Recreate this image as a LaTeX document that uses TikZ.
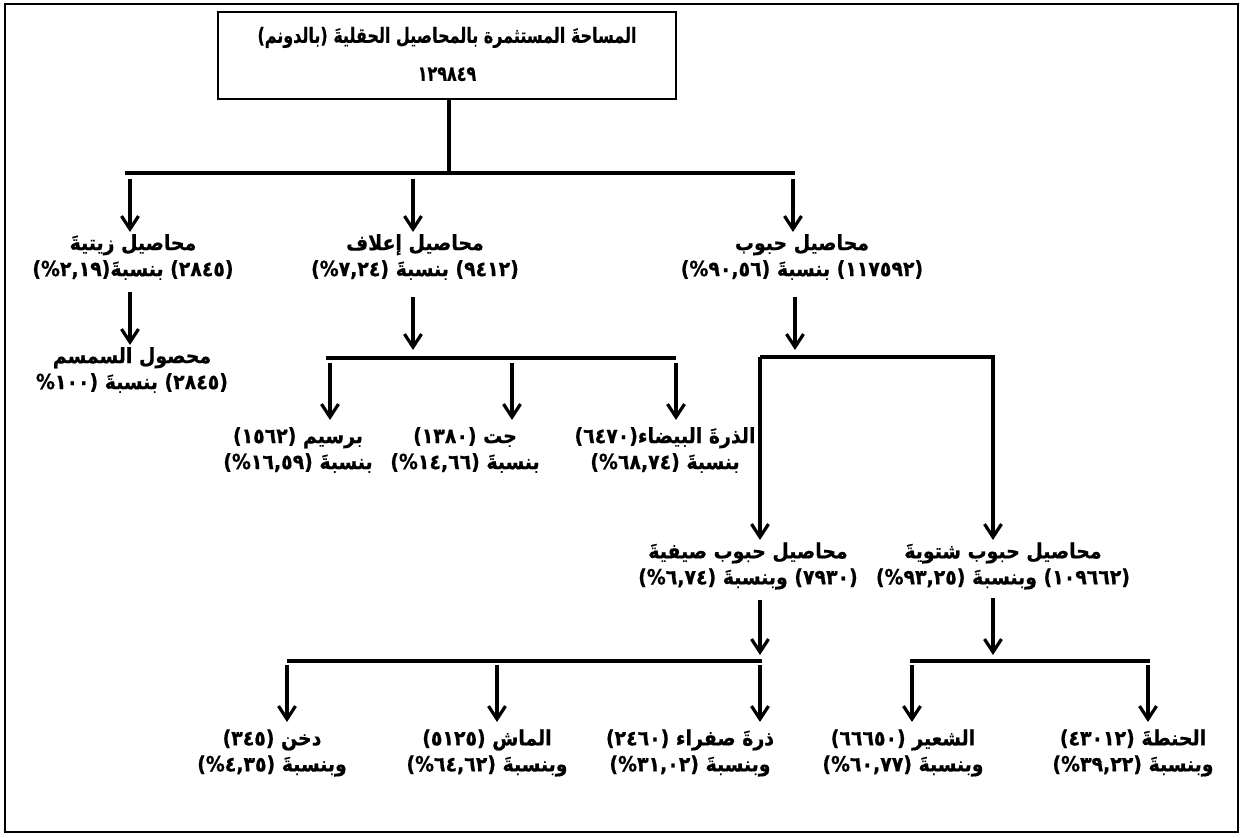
\documentclass[tikz,border=0pt]{standalone}
\usepackage{fontspec}
\usetikzlibrary{arrows.meta}
\newfontfamily\arabicfont[Script=Arabic, FakeStretch=0.9, BoldFeatures={FakeBold=0.6}]{DejaVu Sans}
\newfontfamily\arabicnarrow[Script=Arabic, FakeStretch=0.76, BoldFeatures={FakeBold=0.6}]{DejaVu Sans}
\TeXXeTstate=1
\newcommand\AR[1]{\beginR #1\endR}
\begin{document}
\begin{tikzpicture}[x=0.5pt,y=-0.5pt,
  ln/.style={line width=1.6pt},
  arr/.style={line width=1.6pt,-{Straight Barb[length=6.5pt,width=8.5pt]}},
  lbl/.style={font=\arabicfont\bfseries\fontsize{10.5}{13}\selectfont, align=center, inner sep=0pt},
  frame/.style={draw, line width=1.3pt}]
\useasboundingbox (0,0) rectangle (1244,838);
\draw[frame] (5,4) rectangle (1238,832);
% top box
\node[frame, minimum width=229pt, minimum height=43.5pt, inner sep=0pt] (top) at (447,55.5) {};
\node[lbl, font=\arabicnarrow\bfseries\fontsize{10.5}{19}\selectfont] (toptxt) at (447,54)
  {\AR{المساحةَ المستثمرة بالمحاصيل الحقليةَ (بالدونم)}\\ \AR{١٢٩٨٤٩}};
% level 1
\coordinate (j0) at (449,173);
\coordinate (bL) at (125,173);
\coordinate (bR) at (795,173);
\draw[ln] (top.south -| j0) -- (j0);
\draw[ln] (bL) -- (bR);
\coordinate (a1s) at (130,179); \coordinate (a1e) at (130,232);
\coordinate (a2s) at (413,179); \coordinate (a2e) at (413,232);
\coordinate (a3s) at (793,179); \coordinate (a3e) at (793,232);
\draw[arr] (a1s) -- (a1e);
\draw[arr] (a2s) -- (a2e);
\draw[arr] (a3s) -- (a3e);
\node[lbl] (zeit) at (133,257) {\AR{محاصيل زيتيةَ}\\ \AR{(٢٨٤٥) بنسبةَ(٢,١٩\%)}};
\node[lbl] (alaf) at (415,257) {\AR{محاصيل إعلاف}\\ \AR{(٩٤١٢) بنسبةَ (٧,٢٤\%)}};
\node[lbl] (hubub) at (802,257) {\AR{محاصيل حبوب}\\ \AR{(١١٧٥٩٢) بنسبةَ (٩٠,٥٦\%)}};
% oil
\coordinate (o1) at (130,292); \coordinate (o2) at (130,345);
\draw[arr] (o1) -- (o2);
\node[lbl] (semsem) at (132,370) {\AR{محصول السمسم}\\ \AR{(٢٨٤٥) بنسبةَ (١٠٠\%}};
% fodder
\coordinate (f1) at (413,297); \coordinate (f2) at (413,350);
\draw[arr] (f1) -- (f2);
\coordinate (fL) at (326,358); \coordinate (fR) at (676,358);
\draw[ln] (fL) -- (fR);
\coordinate (f3s) at (330,363); \coordinate (f3e) at (330,420);
\coordinate (f4s) at (512,363); \coordinate (f4e) at (512,420);
\coordinate (f5s) at (676,363); \coordinate (f5e) at (676,420);
\draw[arr] (f3s) -- (f3e);
\draw[arr] (f4s) -- (f4e);
\draw[arr] (f5s) -- (f5e);
\node[lbl] (barsim) at (298,450) {\AR{برسيم (١٥٦٢)}\\ \AR{بنسبةَ (١٦,٥٩\%)}};
\node[lbl] (jat) at (465,450) {\AR{جت (١٣٨٠)}\\ \AR{بنسبةَ (١٤,٦٦\%)}};
\node[lbl] (dhura) at (665,450) {\AR{الذرةَ البيضاء(٦٤٧٠)}\\ \AR{بنسبةَ (٦٨,٧٤\%)}};
% grains
\coordinate (g1) at (795,297); \coordinate (g2) at (795,350);
\draw[arr] (g1) -- (g2);
\coordinate (gL) at (760,357); \coordinate (gR) at (995,357);
\coordinate (gLe) at (760,540); \coordinate (gRe) at (993,540);
\draw[ln] (gL) -- (gR);
\draw[arr] (gL) -- (gLe);
\draw[arr] (gR -| gRe) -- (gRe);
\node[lbl] (seifi) at (748,566) {\AR{محاصيل حبوب صيفيةَ}\\ \AR{(٧٩٣٠) وبنسبةَ (٦,٧٤\%)}};
\node[lbl] (shitwi) at (1003,566) {\AR{محاصيل حبوب شتويةَ}\\ \AR{(١٠٩٦٦٢) وبنسبةَ (٩٣,٢٥\%)}};
% summer
\coordinate (s1) at (760,600); \coordinate (s2) at (760,655);
\draw[arr] (s1) -- (s2);
\coordinate (sL) at (287,661); \coordinate (sR) at (762,661);
\draw[ln] (sL) -- (sR);
\coordinate (s3s) at (287,665); \coordinate (s3e) at (287,722);
\coordinate (s4s) at (497,665); \coordinate (s4e) at (497,722);
\coordinate (s5s) at (760,665); \coordinate (s5e) at (760,722);
\draw[arr] (s3s) -- (s3e);
\draw[arr] (s4s) -- (s4e);
\draw[arr] (s5s) -- (s5e);
\node[lbl] (dukhn) at (272,753) {\AR{دخن (٣٤٥)}\\ \AR{وبنسبةَ (٤,٣٥\%)}};
\node[lbl] (mash) at (487,753) {\AR{الماش (٥١٢٥)}\\ \AR{وبنسبةَ (٦٤,٦٢\%)}};
\node[lbl] (safra) at (690,753) {\AR{ذرةَ صفراء (٢٤٦٠)}\\ \AR{وبنسبةَ (٣١,٠٢\%)}};
% winter
\coordinate (w1) at (993,598); \coordinate (w2) at (993,655);
\draw[arr] (w1) -- (w2);
\coordinate (wL) at (910,661); \coordinate (wR) at (1150,661);
\draw[ln] (wL) -- (wR);
\coordinate (w3s) at (912,665); \coordinate (w3e) at (912,722);
\coordinate (w4s) at (1148,665); \coordinate (w4e) at (1148,722);
\draw[arr] (w3s) -- (w3e);
\draw[arr] (w4s) -- (w4e);
\node[lbl] (shaeer) at (903,753) {\AR{الشعير (٦٦٦٥٠)}\\ \AR{وبنسبةَ (٦٠,٧٧\%)}};
\node[lbl] (hinta) at (1133,753) {\AR{الحنطةَ (٤٣٠١٢)}\\ \AR{وبنسبةَ (٣٩,٢٢\%)}};
\end{tikzpicture}
\end{document}
